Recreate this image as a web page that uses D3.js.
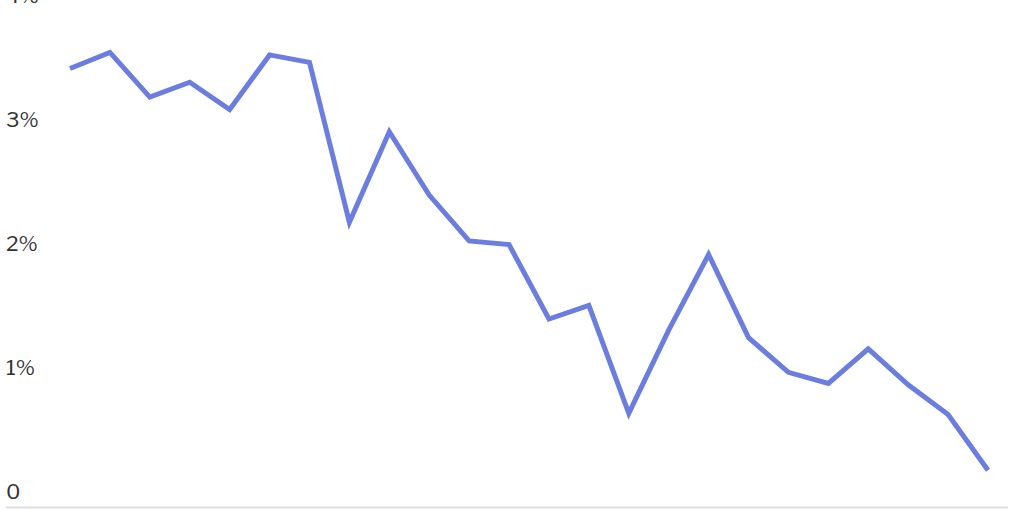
<!DOCTYPE html>
<html>
<head>
<meta charset="utf-8">
<script src="https://cdn.jsdelivr.net/npm/d3@7"></script>
<style>
  html, body { margin: 0; padding: 0; background: #fff; }
  #chart { width: 1024px; height: 512px; overflow: hidden; }
  .tick-label { font-family: "Libre Franklin", "Noto Sans", "Liberation Sans", sans-serif; font-size: 21px; fill: #333; }
</style>
</head>
<body>
<div id="chart"></div>
<script>
// 24 periods, no x labels are shown in the picture
const periods = d3.range(1, 25);
const rates = [3.54, 3.67, 3.31, 3.43, 3.21, 3.65, 3.59, 2.30, 3.03, 2.52, 2.15, 2.12,
               1.52, 1.63, 0.76, 1.43, 2.04, 1.37, 1.09, 1.00, 1.28, 0.99, 0.75, 0.30];
const yTicks = [0, 1, 2, 3, 4];
const yTickLabels = ["0", "1%", "2%", "3%", "4%"];

const W = 1024, H = 512;

const svg = d3.select("#chart").append("svg").attr("width", W).attr("height", H);

const x = d3.scalePoint().domain(periods).range([70, 988]);
const y = d3.scaleLinear().domain([0, 4]).range([507.5, 11.5]);

// baseline
svg.append("line")
  .attr("x1", 6).attr("x2", 1008)
  .attr("y1", y(0)).attr("y2", y(0))
  .attr("stroke", "#ddd").attr("stroke-width", 2);

// y labels sit just above their (hidden) gridlines
svg.append("g").selectAll("text").data(yTicks).join("text")
  .attr("class", "tick-label")
  .attr("x", 6)
  .attr("y", d => y(d) - 9)
  .text((d, i) => yTickLabels[i]);

const line = d3.line().x((d, i) => x(periods[i])).y(d => y(d));

svg.append("path")
  .datum(rates)
  .attr("d", line)
  .attr("fill", "none")
  .attr("stroke", "#6b7ddf")
  .attr("stroke-width", 5)
  .attr("stroke-linejoin", "miter");
</script>
</body>
</html>
